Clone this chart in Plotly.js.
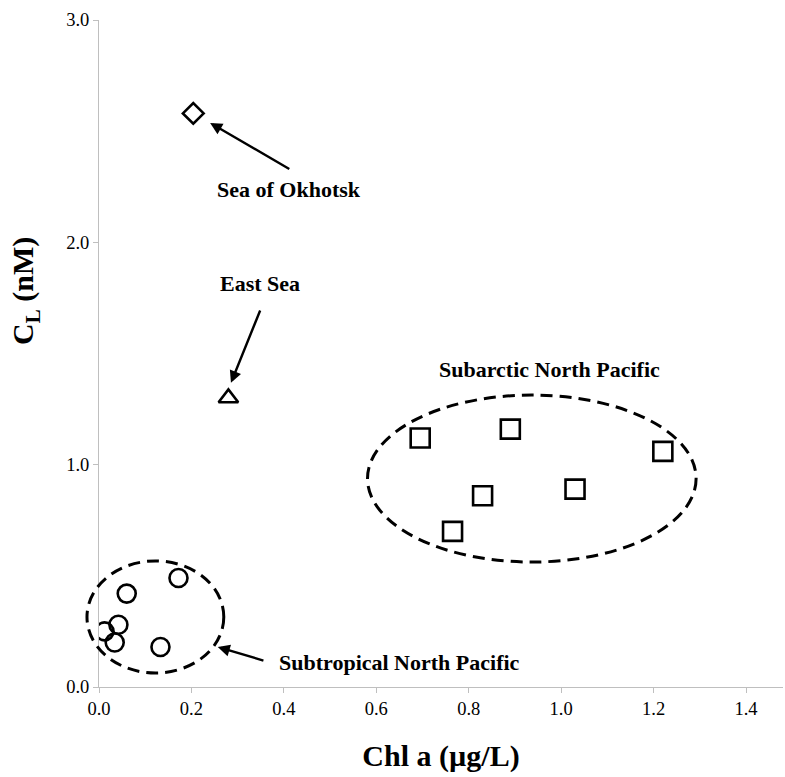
<!DOCTYPE html>
<html><head><meta charset="utf-8">
<script src="https://cdn.plot.ly/plotly-3.0.1.min.js"></script>
<style>body{margin:0;padding:0;background:#fff}#c{width:785px;height:777px}</style>
</head><body><div id="c"></div>
<script>
// Data
const okhotskX = [0.204];
const okhotskY = [2.58];
const eastSeaX = [0.28];
const eastSeaY = [1.30];
const subarcticX = [0.695, 0.89, 1.22, 0.83, 1.03, 0.765];
const subarcticY = [1.12, 1.16, 1.06, 0.86, 0.89, 0.70];
const subtropX = [0.172, 0.06, 0.042, 0.012, 0.034, 0.133];
const subtropY = [0.49, 0.42, 0.28, 0.25, 0.20, 0.18];
const xTicks = [0, 0.2, 0.4, 0.6, 0.8, 1.0, 1.2, 1.4];
const yTicks = [0, 1, 2, 3];

const F = "'Liberation Serif', 'Times New Roman', serif";
const mk = (sym, size) => ({symbol: sym, size: size, color: '#000', line: {color: '#000', width: 2.6}});

const traces = [
  {x: okhotskX, y: okhotskY, mode: 'markers', type: 'scatter', marker: mk('diamond-open', 16)},
  {x: eastSeaX, y: eastSeaY, mode: 'markers', type: 'scatter', marker: mk('triangle-up-open', 17)},
  {x: subarcticX, y: subarcticY, mode: 'markers', type: 'scatter', marker: mk('square-open', 19)},
  {x: subtropX, y: subtropY, mode: 'markers', type: 'scatter', marker: mk('circle-open', 18)}
];

const arrow = (x, y, ax, ay) => ({x: x, y: y, ax: ax, ay: ay, xref: 'x', yref: 'y', axref: 'x', ayref: 'y',
  text: '', showarrow: true, arrowhead: 2, arrowsize: 1, arrowwidth: 2.4, arrowcolor: '#000'});
const label = (x, y, t, anchor) => ({x: x, y: y, xref: 'x', yref: 'y', text: t, showarrow: false,
  xanchor: anchor || 'center', yanchor: 'middle', font: {family: F, size: 22, color: '#000', weight: 'bold'}});

const xr = [0, 1.48], yr = [0, 3];
const px = v => (v - xr[0]) / (xr[1] - xr[0]);
const py = v => (v - yr[0]) / (yr[1] - yr[0]);
const ellDash = '12px,7px';

const layout = {
  width: 785, height: 777,
  margin: {l: 99, r: 2, t: 20, b: 90},
  paper_bgcolor: '#fff', plot_bgcolor: '#fff',
  showlegend: false,
  font: {family: F, color: '#000'},
  xaxis: {
    range: xr, tickvals: xTicks, tickformat: '.1f',
    showgrid: false, zeroline: false, showline: true, linecolor: '#bfbfbf', linewidth: 1,
    ticks: 'outside', ticklen: 5, tickcolor: '#bfbfbf',
    tickfont: {family: F, size: 18.5, color: '#000'},
    title: {text: 'Chl a (µg/L)', font: {family: F, size: 30, color: '#000', weight: 'bold'}, standoff: 26}
  },
  yaxis: {
    range: yr, tickvals: yTicks, tickformat: '.1f',
    showgrid: false, zeroline: false, showline: true, linecolor: '#bfbfbf', linewidth: 1,
    ticks: 'outside', ticklen: 5, tickcolor: '#bfbfbf',
    tickfont: {family: F, size: 18.5, color: '#000'}
  },
  shapes: [
    {type: 'circle', xref: 'paper', yref: 'paper', x0: px(-0.026), x1: px(0.27), y0: py(0.063), y1: py(0.567),
     line: {color: '#000', width: 3, dash: ellDash}},
    {type: 'circle', xref: 'paper', yref: 'paper', x0: px(0.581), x1: px(1.292), y0: py(0.562), y1: py(1.313),
     line: {color: '#000', width: 3, dash: ellDash}}
  ],
  annotations: [
    arrow(0.2405, 2.537, 0.415, 2.326),
    arrow(0.2855, 1.368, 0.350, 1.700),
    arrow(0.257, 0.18, 0.359, 0.117),
    label(0.412, 2.236, 'Sea of Okhotsk'),
    label(0.349, 1.813, 'East Sea'),
    label(0.974, 1.430, 'Subarctic North Pacific'),
    label(0.385, 0.112, 'Subtropical North Pacific', 'left'),
    {xref: 'paper', yref: 'paper', x: -0.108, y: 0.594, xanchor: 'center', yanchor: 'middle',
     text: 'C<sub>L</sub> (nM)', textangle: -90, showarrow: false,
     font: {family: F, size: 30, color: '#000', weight: 'bold'}}
  ]
};

Plotly.newPlot('c', traces, layout, {displayModeBar: false, staticPlot: true});
</script>
</body></html>
